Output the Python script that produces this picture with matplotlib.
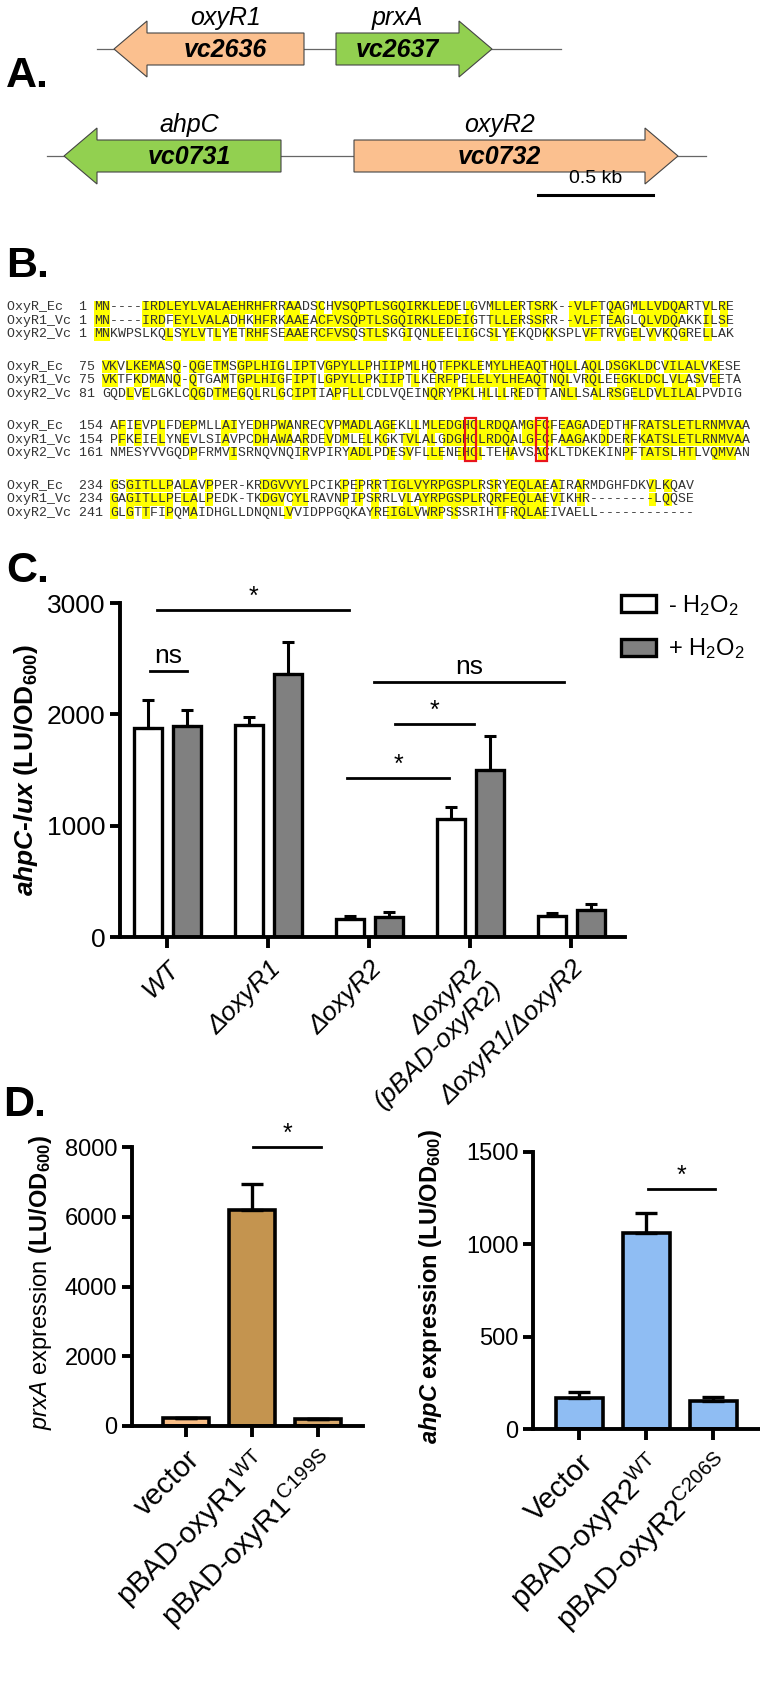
import numpy as np
import matplotlib.pyplot as plt
from matplotlib.patches import Polygon, Rectangle

plt.rcParams['font.family'] = ['Liberation Sans', 'DejaVu Sans']
plt.rcParams['mathtext.fontset'] = 'custom'
plt.rcParams['mathtext.rm'] = 'Liberation Sans'
plt.rcParams['mathtext.it'] = 'Liberation Sans:italic'
plt.rcParams['mathtext.bf'] = 'Liberation Sans:bold'
plt.rcParams['mathtext.bfit'] = 'Liberation Sans:italic:bold'
NARROW = ['Liberation Sans Narrow', 'Liberation Sans', 'DejaVu Sans']
MONO = ['Liberation Mono', 'DejaVu Sans Mono']

# ---------------- A. gene maps (pixel positions) ----------------
gene_names = ['oxyR1', 'prxA', 'ahpC', 'oxyR2']
gene_loci = ['vc2636', 'vc2637', 'vc0731', 'vc0732']
gene_tail = [304, 336, 281, 354]
gene_tip = [114, 492, 64, 678]
gene_row = [0, 0, 1, 1]
gene_kind = ['oxyR', 'target', 'target', 'oxyR']
row_span = [(97, 561), (47, 706)]
row_y = [49, 156]
scale_bar = (538, 653)

# ---------------- B. alignment ----------------
seq_names = ['OxyR_Ec', 'OxyR1_Vc', 'OxyR2_Vc']
block_start = [[1, 1, 1], [75, 75, 81], [154, 154, 161], [234, 234, 241]]
ec_blocks = [
    'MN----IRDLEYLVALAEHRHFRRAADSCHVSQPTLSGQIRKLEDELGVMLLERTSRK--VLFTQAGMLLVDQARTVLRE',
    'VKVLKEMASQ-QGETMSGPLHIGLIPTVGPYLLPHIIPMLHQTFPKLEMYLHEAQTHQLLAQLDSGKLDCVILALVKESE',
    'AFIEVPLFDEPMLLAIYEDHPWANRECVPMADLAGEKLLMLEDGHCLRDQAMGFCFEAGADEDTHFRATSLETLRNMVAA',
    'GSGITLLPALAVPPER-KRDGVVYLPCIKPEPRRTIGLVYRPGSPLRSRYEQLAEAIRARMDGHFDKVLKQAV',
]
r1_blocks = [
    'MN----IRDFEYLVALADHKHFRKAAEACFVSQPTLSGQIRKLEDEIGTTLLERSSRR--VLFTEAGLQLVDQAKKILSE',
    'VKTFKDMANQ-QTGAMTGPLHIGFIPTLGPYLLPKIIPTLKERFPELELYLHEAQTNQLVRQLEEGKLDCLVLASVEETA',
    'PFKEIELYNEVLSIAVPCDHAWAARDEVDMLELKGKTVLALGDGHCLRDQALGFCFAAGAKDDERFKATSLETLRNMVAA',
    'GAGITLLPELALPEDK-TKDGVCYLRAVNPIPSRRLVLAYRPGSPLRQRFEQLAEVIKHR--------LQQSE',
]
r2_blocks = [
    'MNKWPSLKQLSYLVTLYETRHFSEAAERCFVSQSTLSKGIQNLEELIGCSLYEKQDKKSPLVFTRVGELVVKQGRELLAK',
    'GQDLVELGKLCQGDTMEGQLRLGCIPTIAPFLLCDLVQEINQRYPKLHLLLREDTTANLLSALRSGELDVLILALPVDIG',
    'NMESYVVGQDPFRMVISRNQVNQIRVPIRYADLPDESVFLLENEHCLTEHAVSACKLTDKEKINPFTATSLHTLVQMVAN',
    'GLGTTFIPQMAIDHGLLDNQNLVVIDPPGQKAYREIGLVWRPSSSRIHTFRQLAEIVAELL------------',
]
cys_ec = [199, 208]

# ---------------- C. ahpC-lux ----------------
c_groups = ['WT', '\u0394oxyR1', '\u0394oxyR2', '\u0394oxyR2\n(pBAD-oxyR2)', '\u0394oxyR1/\u0394oxyR2']
c_minus = [1880, 1900, 165, 1062, 190]
c_minus_err = [250, 75, 25, 110, 30]
c_plus = [1895, 2360, 180, 1498, 240]
c_plus_err = [145, 290, 45, 307, 55]
c_sig = [(-0.10, 1.80, 2938, '*'), (-0.17, 0.19, 2390, 'ns'), (2.04, 3.93, 2290, 'ns'),
         (2.25, 3.03, 1914, '*'), (1.78, 2.79, 1428, '*')]

# ---------------- D. complementation ----------------
d1_labels = ['vector', r'pBAD-oxyR1$^{\mathrm{WT}}$', r'pBAD-oxyR1$^{\mathrm{C199S}}$']
d1_vals = [220, 6180, 190]
d1_err = [15, 760, 10]
d1_colors = ['#F9BE86', '#C4944F', '#D9A96C']
d2_labels = ['Vector', r'pBAD-oxyR2$^{\mathrm{WT}}$', r'pBAD-oxyR2$^{\mathrm{C206S}}$']
d2_vals = [167, 1059, 153]
d2_err = [31, 111, 18]
d2_colors = ['#8FBDF3', '#8FBDF3', '#8FBDF3']

W, H = 760, 1698
fig = plt.figure(figsize=(W / 100, H / 100), dpi=100)
canvas = fig.add_axes([0, 0, 1, 1])
canvas.set_xlim(0, W)
canvas.set_ylim(H, 0)
canvas.axis('off')


def px_axes(x0, y0, x1, y1):
    return fig.add_axes([x0 / W, 1 - y1 / H, (x1 - x0) / W, (y1 - y0) / H])


# panel letters
for lab, (x, y) in zip(['A.', 'B.', 'C.', 'D.'], [(6, 76), (6, 266), (6, 571), (3, 1105)]):
    canvas.text(x, y, lab, fontsize=31, weight='bold', va='center', ha='left')

# ---- A ----
body_h, head_h, head_len = 16, 28, 33
for (x0, x1), y in zip(row_span, row_y):
    canvas.plot([x0, x1], [y, y], color='#666666', lw=0.9, zorder=1)
for name, locus, tail, tip, row, kind in zip(gene_names, gene_loci, gene_tail, gene_tip, gene_row, gene_kind):
    y = row_y[row]
    d = 1 if tip > tail else -1
    base = tip - d * head_len
    pts = [(tail, y - body_h), (base, y - body_h), (base, y - head_h), (tip, y),
           (base, y + head_h), (base, y + body_h), (tail, y + body_h)]
    fc = '#FBC08F' if kind == 'oxyR' else '#92D050'
    canvas.add_patch(Polygon(pts, closed=True, facecolor=fc, edgecolor='#444444', lw=0.8, zorder=2))
    cx = (tail + base) / 2
    canvas.text(cx, y + 1, locus, ha='center', va='center', fontsize=18, style='italic',
                weight='bold', zorder=3)
    canvas.text(cx, y - body_h - 3, name, ha='center', va='bottom', fontsize=18, style='italic')
canvas.plot(scale_bar, [195, 195], color='black', lw=2.2)
canvas.text(sum(scale_bar) / 2, 187, '0.5 kb', ha='center', va='bottom', fontsize=14)

# ---- B ----
cw = 7.92
ax0, ay0 = 7, 307
row_h, block_h = 13.7, 59.5
for b in range(4):
    rows = [ec_blocks[b], r1_blocks[b], r2_blocks[b]]
    for r in range(3):
        y = ay0 + b * block_h + r * row_h
        num = str(block_start[b][r])
        sx = ax0 + (9 + len(num) + 1) * cw
        for i, ch in enumerate(rows[r]):
            same = [rows[o][i] == ch for o in range(3) if o != r]
            if ch != '-' and any(same):
                canvas.add_patch(Rectangle((sx + i * cw, y - 6.5), cw, 13, facecolor='#FFFF00',
                                           lw=0, zorder=1))
        canvas.text(ax0, y, f'{seq_names[r]:<9}{num}', family=MONO, fontsize=9.5,
                    va='center', color='#333333', zorder=2)
        canvas.text(sx, y, rows[r], family=MONO, fontsize=9.5, va='center', color='#333333', zorder=2)
    if b == 2:
        sx = ax0 + (9 + 3 + 1) * cw
        ytop = ay0 + b * block_h - 8
        for n in cys_ec:
            col = n - block_start[b][0]
            canvas.add_patch(Rectangle((sx + col * cw - 1.5, ytop), cw + 3, 2 * row_h + 16,
                                       fill=False, edgecolor='#E8141B', lw=1.6, zorder=3))


def style_axes(ax, lw=2.6):
    for s in ['top', 'right']:
        ax.spines[s].set_visible(False)
    for s in ['left', 'bottom']:
        ax.spines[s].set_linewidth(lw)
    ax.tick_params(width=lw, length=7)


def sig(ax, x0, x1, y, lab, fs, fam, off):
    ax.plot([x0, x1], [y, y], color='black', lw=2.0, clip_on=False)
    ax.text((x0 + x1) / 2, y + off, lab, ha='center', va='bottom', fontsize=fs, family=fam)


# ---- C ----
axc = px_axes(120, 603, 625, 937)
x = np.arange(len(c_groups))
bw, off = 0.28, 0.19
b1 = axc.bar(x - off, c_minus, bw, color='white', edgecolor='black', lw=2.4, label='- H$_2$O$_2$')
b2 = axc.bar(x + off, c_plus, bw, color='#808080', edgecolor='black', lw=2.4, label='+ H$_2$O$_2$')
axc.errorbar(x - off, c_minus, yerr=[np.zeros(len(x)), c_minus_err], fmt='none', ecolor='black',
             elinewidth=2.2, capsize=4, capthick=2.2)
axc.errorbar(x + off, c_plus, yerr=[np.zeros(len(x)), c_plus_err], fmt='none', ecolor='black',
             elinewidth=2.2, capsize=4, capthick=2.2)
axc.set_xlim(-0.47, 4.53)
axc.set_ylim(0, 3000)
axc.set_yticks([0, 1000, 2000, 3000])
axc.set_xticks(x)
axc.set_xticklabels(c_groups, rotation=45, ha='right', rotation_mode='anchor', style='italic',
                    family=NARROW, fontsize=19)
for t in axc.get_yticklabels():
    t.set_family(NARROW)
    t.set_fontsize(19)
style_axes(axc, 2.8)
axc.tick_params(axis='x', length=8, pad=6)
for x0, x1, y, lab in c_sig:
    sig(axc, x0, x1, y, lab, 19 if lab == 'ns' else 18, NARROW, 25 if lab == 'ns' else 10)
axc.legend(handles=[b1, b2], loc='upper left', bbox_to_anchor=(616 / W, 1 - 588 / H),
           bbox_transform=fig.transFigure, frameon=False, prop={'family': NARROW, 'size': 17},
           handlelength=1.5, handleheight=0.7, labelspacing=0.8, handletextpad=0.5,
           borderaxespad=0, borderpad=0.2)
canvas.text(26, 770, r'$\mathbfit{ahpC}$-$\mathbfit{lux}$ (LU/OD$_{\mathbf{600}}$)', rotation=90,
            ha='center', va='center', fontsize=19, weight='bold')

# ---- D ----
axl = px_axes(132, 1147, 363, 1426)
xd = np.arange(3)
axl.bar(xd, d1_vals, 0.7, color=d1_colors, edgecolor='black', lw=2.6)
axl.errorbar(xd, d1_vals, yerr=[np.zeros(3), d1_err], fmt='none', ecolor='black',
             elinewidth=2.4, capsize=8, capthick=2.4)
axl.set_xlim(-0.82, 2.68)
axl.set_ylim(0, 8000)
axl.set_yticks([0, 2000, 4000, 6000, 8000])
axl.set_xticks(xd)
axl.set_xticklabels(d1_labels, rotation=45, ha='right', rotation_mode='anchor', fontsize=21)
axl.tick_params(axis='y', labelsize=17)
style_axes(axl, 2.8)
axl.tick_params(axis='x', length=8, pad=6)
sig(axl, 1.02, 2.05, 7990, '*', 18, 'Liberation Sans', 30)
canvas.text(41, 1282, r'$\mathit{prxA}$ expression $\mathbf{(LU/OD}_{\mathbf{600}}\mathbf{)}$',
            rotation=90, ha='center', va='center', fontsize=17)

axr = px_axes(533, 1152, 760, 1429)
axr.bar(xd, d2_vals, 0.7, color=d2_colors, edgecolor='black', lw=2.6)
axr.errorbar(xd, d2_vals, yerr=[np.zeros(3), d2_err], fmt='none', ecolor='black',
             elinewidth=2.4, capsize=8, capthick=2.4)
axr.set_xlim(-0.69, 2.7)
axr.set_ylim(0, 1500)
axr.set_yticks([0, 500, 1000, 1500])
axr.set_xticks(xd)
axr.set_xticklabels(d2_labels, rotation=45, ha='right', rotation_mode='anchor', fontsize=21)
axr.tick_params(axis='y', labelsize=17)
style_axes(axr, 2.8)
axr.tick_params(axis='x', length=8, pad=6)
sig(axr, 1.03, 2.03, 1302, '*', 18, 'Liberation Sans', 6)
canvas.text(431, 1286, r'$\mathbfit{ahpC}$ expression (LU/OD$_{\mathbf{600}}$)',
            rotation=90, ha='center', va='center', fontsize=17, weight='bold')

fig.savefig('out.png', dpi=100)
